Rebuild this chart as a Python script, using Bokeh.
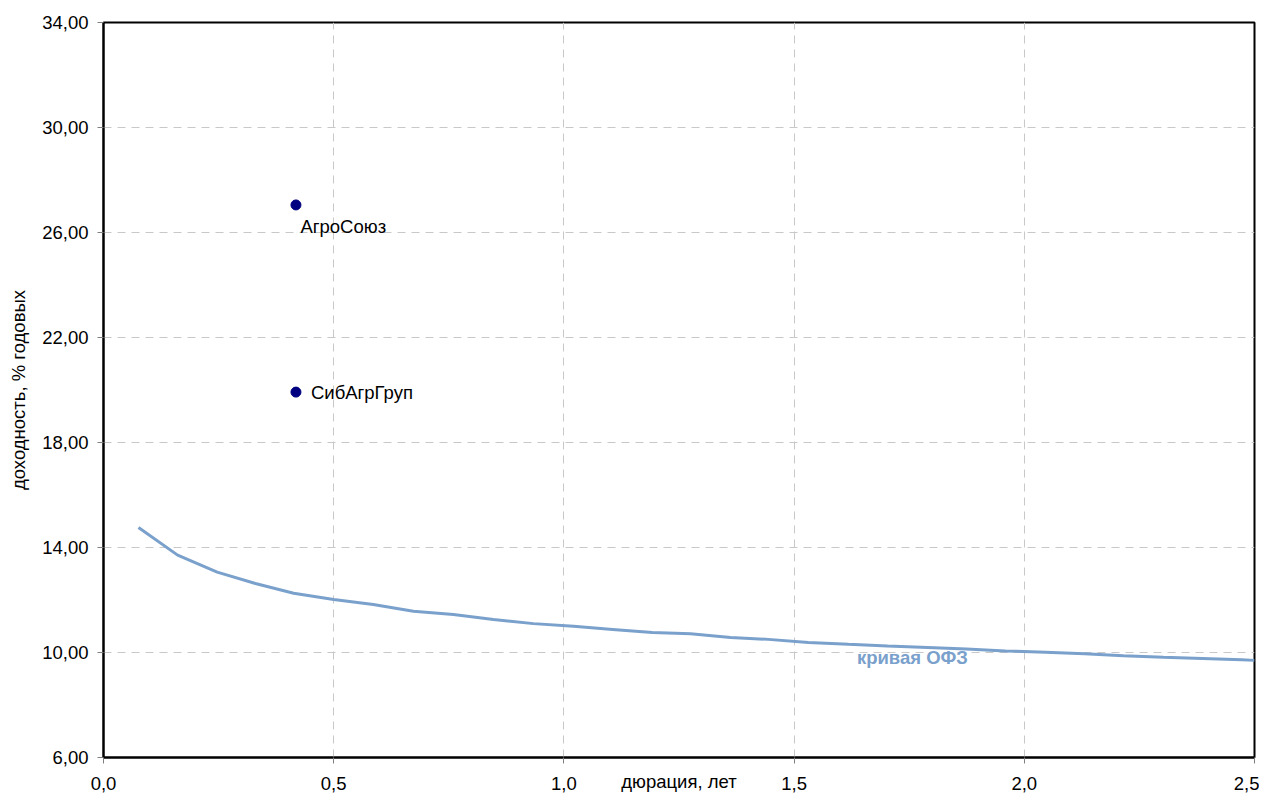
from bokeh.plotting import figure
from bokeh.models import Range1d, FixedTicker, Label
from bokeh.embed import file_html
from bokeh.resources import INLINE

# --- data ---
ofz_x = [0.076, 0.161, 0.247, 0.330, 0.413, 0.500, 0.586, 0.673, 0.760, 0.847,
         0.934, 1.021, 1.106, 1.192, 1.275, 1.362, 1.444, 1.531, 1.618, 1.703,
         1.790, 1.874, 1.959, 2.046, 2.131, 2.215, 2.302, 2.387, 2.472, 2.500]
ofz_y = [14.76, 13.71, 13.06, 12.63, 12.26, 12.02, 11.83, 11.57, 11.45, 11.26,
         11.10, 11.00, 10.88, 10.76, 10.71, 10.57, 10.50, 10.38, 10.31, 10.25,
         10.19, 10.13, 10.06, 10.01, 9.95, 9.88, 9.82, 9.77, 9.72, 9.70]

issuer_names = ["АгроСоюз", "СибАгрГруп"]
issuer_x = [0.418, 0.418]
issuer_y = [27.05, 19.92]

x_ticks = [0.0, 0.5, 1.0, 1.5, 2.0, 2.5]
x_tick_labels = ["0,0", "0,5", "1,0", "1,5", "2,0", "2,5"]
y_ticks = [6, 10, 14, 18, 22, 26, 30, 34]
y_tick_labels = ["6,00", "10,00", "14,00", "18,00", "22,00", "26,00", "30,00", "34,00"]

x_title = "дюрация, лет"
y_title = "доходность, % годовых"
curve_name = "кривая ОФЗ"

FONT = "Liberation Sans"
FS = "18.5px"
LINE_COLOR = "#7aa0cc"
DOT_COLOR = "#000080"

p = figure(width=1259, height=800, x_range=Range1d(0, 2.5), y_range=Range1d(6, 34),
           output_backend="svg", toolbar_location=None,
           min_border_left=103, min_border_right=5, min_border_top=22, min_border_bottom=43)

p.outline_line_color = "black"
p.outline_line_width = 2
p.background_fill_color = "white"
p.border_fill_color = "white"

# axes
p.xaxis.ticker = FixedTicker(ticks=x_ticks)
p.yaxis.ticker = FixedTicker(ticks=y_ticks)
p.xaxis.major_label_overrides = {float(t): l for t, l in zip(x_ticks, x_tick_labels)}
p.yaxis.major_label_overrides = {float(t): l for t, l in zip(y_ticks, y_tick_labels)}
for ax in (p.xaxis, p.yaxis):
    ax.axis_line_color = "black"
    ax.axis_line_width = 2
    ax.major_tick_line_color = "#808080"
    ax.major_tick_out = 6
    ax.major_tick_in = 0
    ax.minor_tick_line_color = None
    ax.major_label_text_font = FONT
    ax.major_label_text_font_size = FS
    ax.major_label_text_color = "black"
    ax.axis_label_text_font = FONT
    ax.axis_label_text_font_size = FS
    ax.axis_label_text_font_style = "normal"
    ax.axis_label_text_color = "black"
p.xaxis.major_label_standoff = 13
p.yaxis.major_label_standoff = 9

p.yaxis.axis_label = y_title
p.yaxis.axis_label_standoff = 10
p.xaxis.axis_label = x_title
p.xaxis.axis_label_standoff = -22

# grid
for g in (p.xgrid, p.ygrid):
    g.grid_line_color = "#c8c8c8"
    g.grid_line_dash = "8 6"
    g.grid_line_width = 1
p.xgrid.ticker = FixedTicker(ticks=x_ticks)
p.ygrid.ticker = FixedTicker(ticks=y_ticks)

# data
p.line(ofz_x, ofz_y, line_width=3, color=LINE_COLOR)
p.scatter(issuer_x, issuer_y, size=10, color=DOT_COLOR)

# labels
offsets = [(4.5, -21.5), (15, 0)]
for name, x, y, (dx, dy) in zip(issuer_names, issuer_x, issuer_y, offsets):
    p.add_layout(Label(x=x, y=y, x_offset=dx, y_offset=dy, text=name,
                       text_font=FONT, text_font_size=FS, text_color="black",
                       text_align="left", text_baseline="middle"))

p.add_layout(Label(x=1.757, y=9.81, text=curve_name, text_font=FONT,
                   text_font_size=FS, text_font_style="bold", text_color=LINE_COLOR,
                   text_align="center", text_baseline="middle"))

open("out.html", "w").write(file_html(p, INLINE))
